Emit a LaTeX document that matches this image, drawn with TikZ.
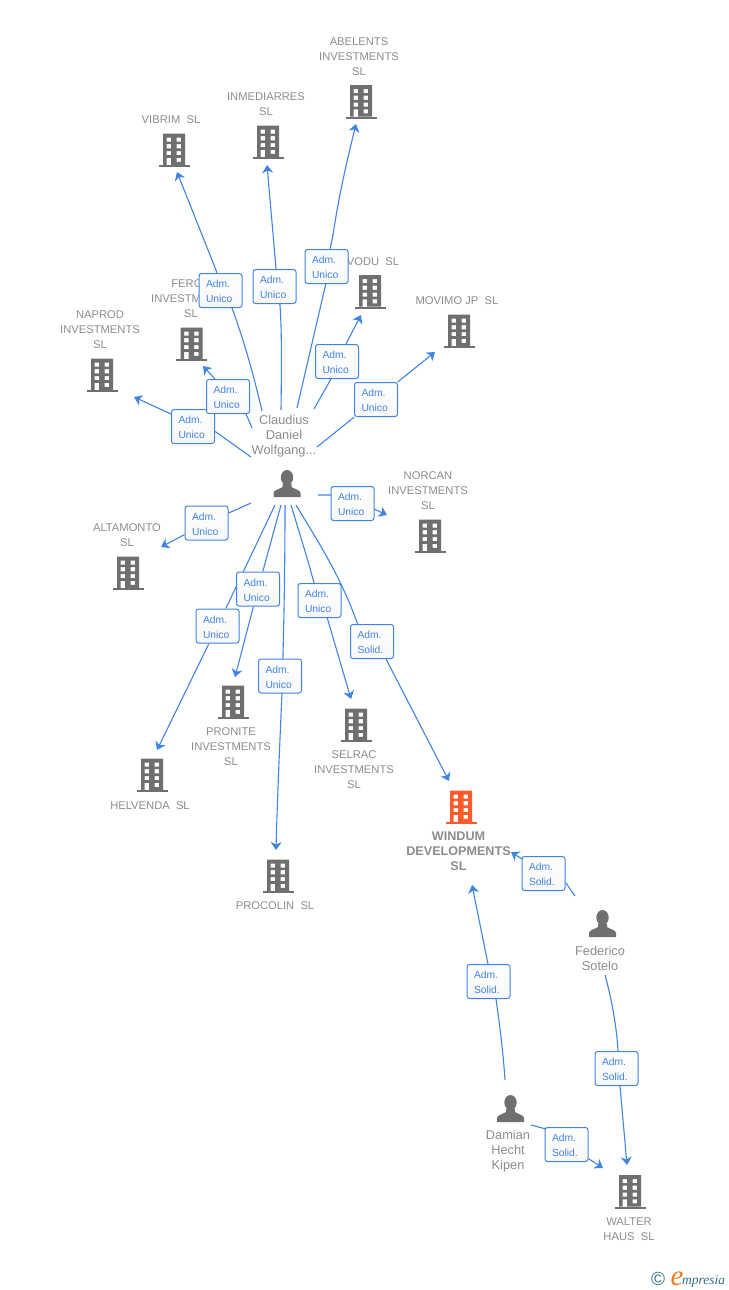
\documentclass[tikz,border=0pt]{standalone}
\usepackage{fontspec}
\setmainfont{Liberation Sans}
\newfontfamily\logofont{Liberation Serif}
\usetikzlibrary{arrows.meta}
\pgfdeclarelayer{lines}
\pgfsetlayers{lines,main}
\definecolor{linkblue}{HTML}{3F84E4}
\definecolor{icongray}{HTML}{6F6F6F}
\definecolor{textgray}{HTML}{8C8C8C}
\definecolor{iconorange}{HTML}{FF5A2C}
\definecolor{logoteal}{HTML}{2F7486}
\definecolor{logoorange}{HTML}{F47B1E}
\newcommand{\roletext}[2]{\vbox{\kern2pt\hbox to 29pt{#1\hfil}\hbox to 29pt{#2\hfil}}}
\tikzset{
  x=1pt,y=-1pt,
  pics/bldg/.style={code={
    \fill[#1,even odd rule]
      (-11,-16.5) rectangle (11,15)
      (-7.5,-12.5) rectangle (-3,-8.3) (2.5,-12.5) rectangle (7,-8.3)
      (-7.5,-5.8) rectangle (-3,-1.6) (2.5,-5.8) rectangle (7,-1.6)
      (-7.5,1) rectangle (-3,5) (2.5,1) rectangle (7,5)
      (-7.5,7.8) rectangle (-3,15) (2.5,7.8) rectangle (7,11.8);
    \fill[#1] (-15.5,15) rectangle (15.5,17);
  }},
  pics/persona/.style={code={
    \fill[icongray] (0,-6) ellipse [x radius=6.2,y radius=7.5];
    \fill[icongray] (-13.5,13.5) -- (-13.5,9.5)
      .. controls (-13.2,6.5) and (-8,5.8) .. (-4.5,3.5)
      -- (-4.5,0) -- (4.5,0) -- (4.5,3.5)
      .. controls (8,5.8) and (13.2,6.5) .. (13.5,9.5)
      -- (13.5,13.5) -- cycle;
  }},
  entity/.style={inner sep=0pt,align=center,text=textgray,yshift=-1pt,font=\fontsize{11.2}{15}\selectfont},
  rootentity/.style={inner sep=0pt,align=center,text=textgray,font=\fontsize{12.6}{15}\selectfont\bfseries},
  person/.style={inner sep=0pt,align=center,text=textgray,font=\fontsize{12.8}{15}\selectfont},
  role/.style={draw=linkblue,top color=white,bottom color=black!3,line width=1pt,rounded corners=2.5pt,
    minimum width=43pt,minimum height=34pt,inner sep=0pt,
    text=linkblue,font=\fontsize{10.3}{15}\selectfont},
  link/.style={draw=linkblue,line width=1.1pt},
  arrowlink/.style={link,-{Stealth[length=8pt,width=11pt,inset=2.5pt]}},
}
\begin{document}
\begin{tikzpicture}
\useasboundingbox (0,0) rectangle (728,1290);
% ---- building and person icons
\pic at (361,101.5) {bldg=icongray};
\pic at (268,142) {bldg=icongray};
\pic at (174,150) {bldg=icongray};
\pic at (370,291.5) {bldg=icongray};
\pic at (459,331) {bldg=icongray};
\pic at (191.5,344) {bldg=icongray};
\pic at (102,375) {bldg=icongray};
\pic at (128,573) {bldg=icongray};
\pic at (430,536) {bldg=icongray};
\pic at (233,702) {bldg=icongray};
\pic at (356,725) {bldg=icongray};
\pic at (152,775) {bldg=icongray};
\pic at (278,876) {bldg=icongray};
\pic at (461,807) {bldg=iconorange};
\pic at (630,1191.5) {bldg=icongray};
\pic at (287,483.5) {persona};
\pic at (602.5,923.5) {persona};
\pic at (510.5,1108.5) {persona};
% ---- entity labels
\node[entity] (abelents) at (359,56) {ABELENTS\\INVESTMENTS\\SL};
\node[entity] (inmediarres) at (266,103.5) {INMEDIARRES\\SL};
\node[entity] (vibrim) at (171,119) {VIBRIM\ \ SL};
\node[entity] (ferco) at (191,298) {FERCO\\INVESTMENTS\\SL};
\node[entity] (vodu) at (373,261) {VODU\ \ SL};
\node[entity] (movimo) at (457,300) {MOVIMO JP\ \ SL};
\node[entity] (naprod) at (100,329) {NAPROD\\INVESTMENTS\\SL};
\node[entity] (altamonto) at (127,534.5) {ALTAMONTO\\SL};
\node[entity] (norcan) at (428,490) {NORCAN\\INVESTMENTS\\SL};
\node[entity] (pronite) at (231,746) {PRONITE\\INVESTMENTS\\SL};
\node[entity] (selrac) at (354,769) {SELRAC\\INVESTMENTS\\SL};
\node[entity] (helvenda) at (150,805) {HELVENDA\ \ SL};
\node[entity] (procolin) at (275,905) {PROCOLIN\ \ SL};
\node[rootentity] (windum) at (458.5,851) {WINDUM\\DEVELOPMENTS\\SL};
\node[entity] (walter) at (629,1228.5) {WALTER\\HAUS\ \ SL};
\node[person] (claudius) at (284,436.5) {Claudius\\Daniel\\Wolfgang...};
\node[person] (federico) at (600,958.5) {Federico\\Sotelo};
\node[person] (damian) at (508,1151.5) {Damian\\Hecht\\Kipen};
% ---- role boxes
\node[role] (r1) at (220.5,290.5) {\roletext{Adm.}{Unico}};
\node[role] (r2) at (274.5,286.5) {\roletext{Adm.}{Unico}};
\node[role] (r3) at (326.5,266.5) {\roletext{Adm.}{Unico}};
\node[role] (r4) at (337,361.5) {\roletext{Adm.}{Unico}};
\node[role] (r5) at (376,399.5) {\roletext{Adm.}{Unico}};
\node[role] (r7) at (193,426.5) {\roletext{Adm.}{Unico}};
\node[role] (r6) at (228,396.5) {\roletext{Adm.}{Unico}};
\node[role] (r8) at (206.5,523) {\roletext{Adm.}{Unico}};
\node[role] (r9) at (352.5,503.5) {\roletext{Adm.}{Unico}};
\node[role] (r10) at (217.5,626) {\roletext{Adm.}{Unico}};
\node[role] (r11) at (258,589) {\roletext{Adm.}{Unico}};
\node[role] (r12) at (280,676) {\roletext{Adm.}{Unico}};
\node[role] (r13) at (319.5,600.5) {\roletext{Adm.}{Unico}};
\node[role] (r14) at (372,641.5) {\roletext{Adm.}{Solid.}};
\node[role] (r15) at (543.5,873.5) {\roletext{Adm.}{Solid.}};
\node[role] (r16) at (488.5,981.5) {\roletext{Adm.}{Solid.}};
\node[role] (r17) at (616.5,1068.5) {\roletext{Adm.}{Solid.}};
\node[role] (r18) at (566.5,1144.5) {\roletext{Adm.}{Solid.}};
% ---- free ends of connectors
\coordinate (c1) at (262,411);   \coordinate (t1) at (177,172);
\coordinate (c2) at (281,410);   \coordinate (t2) at (267,165);
\coordinate (c3) at (297,408);   \coordinate (t3) at (356,124);
\coordinate (c4) at (314,409);   \coordinate (t4) at (361,315);
\coordinate (c5) at (317,447);   \coordinate (t5) at (435,352);
\coordinate (c6) at (252,428);   \coordinate (t6) at (203,366);
\coordinate (c7) at (251,457);   \coordinate (t7) at (134,397);
\coordinate (c8) at (251,503);   \coordinate (t8) at (161,547);
\coordinate (c9) at (318,495);   \coordinate (t9) at (387,515);
\coordinate (c10) at (275,505);  \coordinate (t10) at (157,750);
\coordinate (c11) at (281,505);  \coordinate (t11) at (235,677);
\coordinate (c12) at (285,505);  \coordinate (t12) at (276,850);
\coordinate (c13) at (291,505);  \coordinate (t13) at (351,699);
\coordinate (c14) at (296,505);  \coordinate (t14) at (449,781);
\coordinate (f1) at (575,896);   \coordinate (t15) at (511,852);
\coordinate (d1) at (505,1080);  \coordinate (t16) at (472,885);
\coordinate (f2) at (605,975);   \coordinate (t17) at (627,1165);
\coordinate (d2) at (531,1125);  \coordinate (t18) at (603,1168);
% ---- connectors
\begin{pgfonlayer}{lines}
\draw[arrowlink] (c1) .. controls (253,372) and (243,338) .. (232,308) -- (r1) -- (216,270) -- (t1);
\draw[arrowlink] (c2) .. controls (281.5,370) and (282,335) .. (280,305) -- (r2) -- (276,268) -- (t2);
\draw[arrowlink] (c3) -- (326,283) -- (r3) -- (333,235) .. controls (339,195) and (346,165) .. (t3);
\draw[arrowlink] (c4) -- (331,379) -- (r4) -- (346,344) -- (t4);
\draw[arrowlink] (c5) -- (r5) -- (t5);
\draw[arrowlink] (c6) -- (246,414) -- (r6) -- (215,379) -- (t6);
\draw[arrowlink] (c7) -- (216,432) -- (r7) -- (171,414) -- (t7);
\draw[arrowlink] (c8) -- (r8) -- (t8);
\draw[arrowlink] (c9) -- (331,495) -- (r9) -- (374,509) -- (t9);
\draw[arrowlink] (c10) -- (r10) -- (t10);
\draw[arrowlink] (c11) -- (r11) -- (t11);
\draw[arrowlink] (c12) .. controls (285,570) and (284,620) .. (282,693) -- (r12) -- (282,693) .. controls (279,760) and (277,810) .. (t12);
\draw[arrowlink] (c13) .. controls (300,535) and (308,560) .. (314,583) -- (r13) -- (327,617) -- (t13);
\draw[arrowlink] (c14) .. controls (320,545) and (340,575) .. (358,625) -- (r14) -- (386,659) -- (t14);
\draw[arrowlink] (f1) -- (566,883) -- (r15) -- (522,859) -- (t15);
\draw[arrowlink] (d1) .. controls (503,1050) and (499,1020) .. (496,999) -- (r16) -- (488,964) -- (t16);
\draw[arrowlink] (f2) .. controls (612,1000) and (617,1030) .. (618,1051) -- (r17) -- (620,1086) -- (t17);
\draw[arrowlink] (d2) -- (546,1129) -- (r18) -- (589,1159) -- (t18);
\end{pgfonlayer}
% ---- logo
\node[inner sep=0pt,text=logoteal,font=\fontsize{19}{19}\selectfont] (copyright) at (658,1279) {©};
\node[inner sep=0pt,anchor=base west,text=logoorange,font=\logofont\itshape\fontsize{29}{29}\selectfont] (logoe) at (670.5,1285) {e};
\node[inner sep=0pt,anchor=base west,text=logoteal,font=\logofont\itshape\fontsize{13.5}{15}\selectfont] (logotext) at (682,1284) {mpresia};
\end{tikzpicture}
\end{document}
